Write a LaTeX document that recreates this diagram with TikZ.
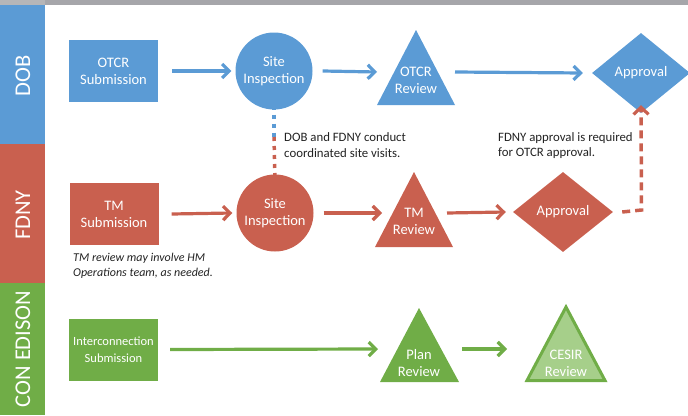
\documentclass[tikz,border=0pt]{standalone}
\usepackage{fontspec}
\setmainfont{Carlito}
\usetikzlibrary{arrows.meta,shapes.geometric,calc}
\definecolor{dobc}{HTML}{5B9BD5}
\definecolor{fdnyc}{HTML}{C9604F}
\definecolor{conc}{HTML}{70AD47}
\definecolor{cesirc}{HTML}{A6CF8A}
\definecolor{topgray}{HTML}{A6A6AA}
\definecolor{topgrayl}{HTML}{B6B6B8}
\definecolor{notec}{HTML}{222222}
\tikzset{
  lbl/.style={text=white,align=center,font=\fontsize{14.5}{17}\selectfont,inner sep=0pt},
  band/.style={text=white,font=\fontsize{22.5}{26}\selectfont,rotate=90,inner sep=0pt},
  boxn/.style={rectangle,minimum width=89pt,minimum height=62pt,text=white,align=center,font=\fontsize{14.5}{17}\selectfont,inner sep=0pt},
  circn/.style={circle,minimum size=77pt,text=white,align=center,font=\fontsize{14.5}{17}\selectfont,inner sep=0pt},
  diamn/.style={diamond,minimum width=98pt,minimum height=80pt,text=white,align=center,font=\fontsize{14.5}{17}\selectfont,inner sep=0pt},
  flow/.style={line width=3.2pt,-{Straight Barb[length=7pt,width=14pt,line width=3.2pt]}},
  note/.style={text=notec,align=left,anchor=west,font=\fontsize{12.8}{15.5}\selectfont,inner sep=0pt},
  inote/.style={text=notec,align=left,anchor=west,font=\itshape\fontsize{12}{15}\selectfont,inner sep=0pt},
}
\begin{document}
\begin{tikzpicture}[x=1pt,y=-1pt]
\useasboundingbox (0,0) rectangle (688,415);
% top bar and bands
\fill[topgray] (0,0) rectangle (688,5);
\fill[topgrayl] (0,0) rectangle (45,5);
\fill[dobc] (0,5) rectangle (45,144);
\fill[fdnyc] (0,144) rectangle (45,283);
\fill[conc] (0,283) rectangle (45,415);
\node[band] (bdob) at (23,76) {DOB};
\node[band] (bfdny) at (23,215) {FDNY};
\node[band] (bcon) at (23,349) {CON EDISON};

% ---- DOB row ----
\node[boxn,fill=dobc] (otcrsub) at (113.5,71) {OTCR\\Submission};
\node[circn,fill=dobc] (dobsite) at (274,71) {Site\\Inspection};
\fill[dobc] (416,30) -- (455,105) -- (377,105) -- cycle;
\node[lbl] (otcrrev) at (416,80) {OTCR\\Review};
\coordinate (otcrrevW) at (377,72);
\coordinate (otcrrevE) at (455,72);
\node[diamn,fill=dobc] (dobapp) at (641,73) {Approval};

\draw[flow,dobc] ([xshift=14pt]otcrsub.east) -- ([xshift=-4pt]dobsite.west);
\draw[flow,dobc] ([xshift=10pt]dobsite.east) -- (otcrrevW);
\draw[flow,dobc] (otcrrevE) -- ([xshift=-9pt]dobapp.west);

% ---- FDNY row ----
\node[boxn,fill=fdnyc] (tmsub) at (114,214) {TM\\Submission};
\node[circn,fill=fdnyc] (fdsite) at (275,213) {Site\\Inspection};
\fill[fdnyc] (414,172) -- (453,247) -- (375,247) -- cycle;
\node[lbl] (tmrev) at (414,221) {TM\\Review};
\coordinate (tmrevW) at (382,213);
\coordinate (tmrevE) at (447,213);
\node[diamn,fill=fdnyc,minimum width=100pt] (fdapp) at (563,212) {Approval};

\draw[flow,fdnyc] ([xshift=13pt]tmsub.east) -- ([xshift=-4pt]fdsite.west);
\draw[flow,fdnyc] ([xshift=10pt]fdsite.east) -- (tmrevW);
\draw[flow,fdnyc] (tmrevE) -- ([xshift=-7pt]fdapp.west);

% ---- Con Edison row ----
\node[boxn,fill=conc,font=\fontsize{12.5}{17}\selectfont] (icsub) at (113.5,349.5) {Interconnection\\Submission};
\fill[conc] (419,308) -- (459,382) -- (380,382) -- cycle;
\node[lbl] (planrev) at (419,363) {Plan\\Review};
\coordinate (planrevW) at (378,349);
\coordinate (planrevE) at (462,349);
\fill[cesirc,draw=conc,line width=3pt,line join=miter] (566,307) -- (605,380.5) -- (527,380.5) -- cycle;
\node[lbl] (cesir) at (566,363) {CESIR\\Review};
\coordinate (cesirW) at (507,349);

\draw[flow,conc] ([xshift=12pt]icsub.east) -- (planrevW);
\draw[flow,conc] (planrevE) -- (cesirW);

% ---- dashed links ----
\coordinate (dj) at (274,141);
\draw[dobc,line width=3.5pt,dash pattern=on 4pt off 5pt] ([yshift=4pt]dobsite.south) -- (dj);
\draw[fdnyc,line width=3.5pt,dash pattern=on 4pt off 5pt,dash phase=0pt] ([yshift=4pt]dj) -- ([yshift=-6pt]fdsite.north);
\coordinate (corner) at (641.5,210);
\draw[fdnyc,line width=3.5pt,dash pattern=on 8pt off 5pt,-{Straight Barb[length=7pt,width=15pt,line width=3.2pt]}]
  ([xshift=9pt]fdapp.east) -- (corner) -- ([yshift=8pt]dobapp.south);

% ---- notes ----
\node[note] (n1) at (284,145) {DOB and FDNY conduct\\coordinated site visits.};
\node[note] (n2) at (498,145.5) {FDNY approval is required\\for OTCR approval.};
\node[inote] (n3) at (73,265.5) {TM review may involve HM\\Operations team, as needed.};
\end{tikzpicture}
\end{document}
